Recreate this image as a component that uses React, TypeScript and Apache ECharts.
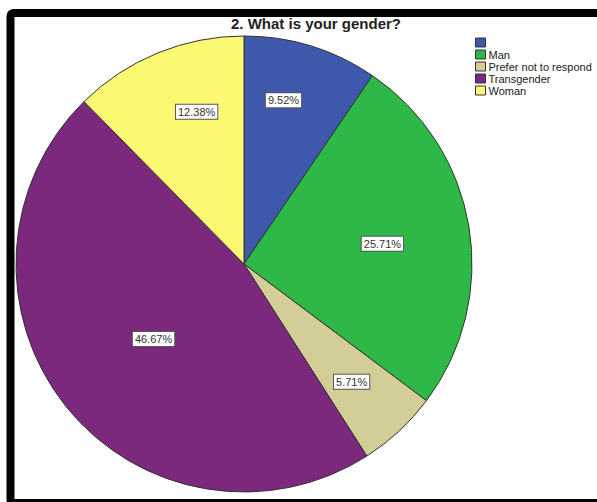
import React, { useEffect, useRef } from "react";
import * as echarts from "echarts";

const categories = [" ", "Man", "Prefer not to respond", "Transgender", "Woman"];
const percents = [9.52, 25.71, 5.71, 46.67, 12.38];
const sliceColors = ["#3E58AC", "#2EB848", "#D3CE97", "#7C287D", "#FBF873"];
const titleText = "2. What is your gender?";
// label nudges (styling) from the default inner label spot
const labelNudges: [number, number][] = [
  [5, -52],
  [23, -1],
  [28, 32],
  [1, 2],
  [-3, -44],
];

const FONT = "'Liberation Sans', Arial, sans-serif";

export default function App() {
  const ref = useRef<HTMLDivElement>(null);
  useEffect(() => {
    document.body.style.margin = "0";
    const chart = echarts.init(ref.current!, null, { renderer: "svg" });
    chart.setOption({
      animation: false,
      backgroundColor: "#ffffff",
      title: {
        text: titleText,
        left: 231,
        top: 16,
        padding: 0,
        textStyle: { fontFamily: FONT, fontSize: 15, fontWeight: "bold", color: "#222" },
      },
      legend: {
        orient: "vertical",
        left: 475,
        top: 37,
        padding: 0,
        itemWidth: 10,
        itemHeight: 9,
        itemGap: 1,
        icon: "rect",
        selectedMode: false,
        data: categories,
        itemStyle: { borderColor: "#333", borderWidth: 1 },
        textStyle: {
          fontFamily: FONT,
          fontSize: 11,
          lineHeight: 11,
          color: "#222",
          padding: [0, 0, 0, -2],
        },
      },
      graphic: [
        {
          type: "rect",
          shape: { x: 10.5, y: 13, width: 620, height: 490, r: 3 },
          style: { fill: "none", stroke: "#000", lineWidth: 8 },
          z: 100,
        },
      ],
      series: [
        {
          type: "pie",
          center: [244, 264],
          radius: [0, 228],
          startAngle: 90,
          clockwise: true,
          avoidLabelOverlap: false,
          data: categories.map((name, i) => ({
            name,
            value: percents[i],
            itemStyle: { color: sliceColors[i] },
          })),
          itemStyle: { borderColor: "#333", borderWidth: 1 },
          label: {
            show: true,
            position: "inside",
            formatter: (p: any) => percents[p.dataIndex].toFixed(2) + "%",
            fontFamily: FONT,
            fontSize: 11,
            color: "#333",
            backgroundColor: "#fff",
            borderColor: "#555",
            borderWidth: 1,
            padding: [2, 2, 1, 2],
          },
          labelLayout: (params: any) => ({
            dx: labelNudges[params.dataIndex][0],
            dy: labelNudges[params.dataIndex][1],
          }),
          labelLine: { show: false },
          emphasis: { disabled: true },
        },
      ],
    });
    return () => chart.dispose();
  }, []);
  return (
    <div
      ref={ref}
      style={{ position: "absolute", left: 0, top: 0, width: 597, height: 502 }}
    />
  );
}
